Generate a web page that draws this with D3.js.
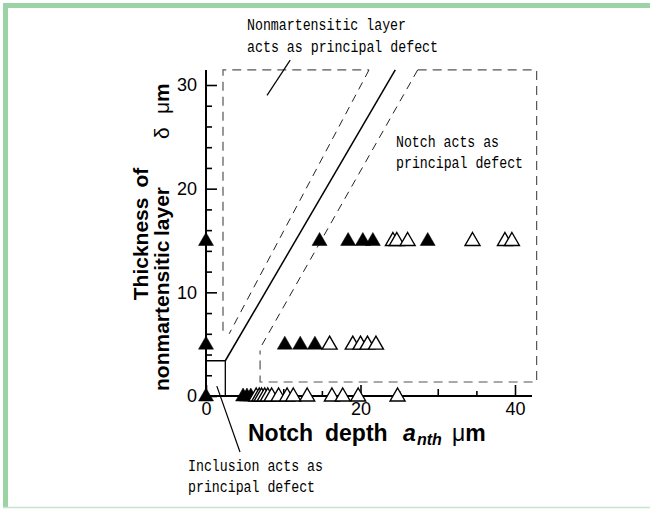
<!DOCTYPE html>
<html>
<head>
<meta charset="utf-8">
<script src="https://cdn.jsdelivr.net/npm/d3@7"></script>
<style>
  body { margin: 0; background: #fff; }
  svg { display: block; }
</style>
</head>
<body>
<div id="chart"></div>
<script>
// Tick values
const xMajorTicks = [0, 20, 40];
const xMinorTicks = [5, 10, 15, 25, 30, 35];
const yMajorTicks = [0, 10, 20, 30];
const yMinorTicks = [2, 4, 6, 8, 12, 14, 16, 18, 22, 24, 26, 28];

// Measured points: notch depth (um) at each layer thickness (um)
const filled15 = [0, 14.7, 18.4, 20.3, 21.6, 28.7];
const open15 = [24.2, 24.7, 26.1, 34.5, 38.7, 39.6];
const filled5 = [0, 10.2, 12.2, 14.1];
const open5 = [16.0, 19.0, 20.0, 20.9, 22.0];
const filled0 = [0, 4.8, 5.3, 5.8];
const open0 = [6.5, 6.9, 7.2, 7.6, 8.0, 8.5, 9.4, 10.5, 11.3, 13.1, 16.3, 17.7, 19.7, 24.8];

// Boundary lines in data units [x, y]
const solidBoundary = [[0, 3.4], [2.5, 3.4], [2.5, 0]];
const solidDiagonal = [[2.5, 3.4], [24.5, 31.45]];
const layerRegion = [[2.2, 6.3], [2.2, 31.45], [21.1, 31.45]];
const layerDiagonal = [[21.1, 31.45], [3.0, 6.0]];
const notchRegion = [[27.4, 31.45], [42.8, 31.45], [42.8, 1.35], [7.0, 1.35], [7.0, 4.4]];
const notchDiagonal = [[27.4, 31.45], [7.0, 4.6]];
const layerLeader = [[10.9, 32.4], [7.9, 29.0]];
const inclusionLeader = [[1.4, 0.95], [4.4, -5.4]];

const width = 650;
const height = 510;

const svg = d3.select("#chart")
    .append("svg")
    .attr("width", width)
    .attr("height", height);

// green frame
svg.append("rect").attr("x", 3).attr("y", 3).attr("width", width).attr("height", 5).attr("fill", "#9bd3a4");
svg.append("rect").attr("x", 3).attr("y", 3).attr("width", 5).attr("height", 505).attr("fill", "#9bd3a4");
svg.append("line").attr("x1", 3).attr("x2", width).attr("y1", 507.5).attr("y2", 507.5)
    .attr("stroke", "#c6e6cb").attr("stroke-width", 1.5);

const xScale = d3.scaleLinear().domain([0, 40]).range([206, 515]);
const yScale = d3.scaleLinear().domain([0, 30]).range([396, 85]);

const line = d3.line().x(d => xScale(d[0])).y(d => yScale(d[1]));

// region outlines
const guides = svg.append("g").attr("fill", "none");
guides.append("path").attr("d", line(layerRegion))
    .attr("stroke", "#555").attr("stroke-width", 1.2).attr("stroke-dasharray", "9,6");
guides.append("path").attr("d", line(notchRegion))
    .attr("stroke", "#555").attr("stroke-width", 1.2).attr("stroke-dasharray", "9,6");
guides.append("path").attr("d", line(layerDiagonal))
    .attr("stroke", "#222").attr("stroke-width", 1).attr("stroke-dasharray", "8,6");
guides.append("path").attr("d", line(notchDiagonal))
    .attr("stroke", "#222").attr("stroke-width", 1).attr("stroke-dasharray", "8,6");
guides.append("path").attr("d", line(solidBoundary))
    .attr("stroke", "#000").attr("stroke-width", 1.3);
guides.append("path").attr("d", line(solidDiagonal))
    .attr("stroke", "#000").attr("stroke-width", 1.5);
guides.append("path").attr("d", line(layerLeader))
    .attr("stroke", "#000").attr("stroke-width", 1.2);
guides.append("path").attr("d", line(inclusionLeader))
    .attr("stroke", "#000").attr("stroke-width", 1.2);

// axes
const axisFont = "'Liberation Sans', Arial, Helvetica, sans-serif";

const yAxis = svg.append("g").attr("transform", `translate(${xScale(0)},0)`)
    .call(d3.axisLeft(yScale).tickValues(yMajorTicks).tickSizeInner(-11).tickSizeOuter(0).tickPadding(9));
const yMinor = svg.append("g").attr("transform", `translate(${xScale(0)},0)`)
    .call(d3.axisLeft(yScale).tickValues(yMinorTicks).tickSizeInner(-6).tickSizeOuter(0).tickFormat(""));
const xAxis = svg.append("g").attr("transform", `translate(0,${yScale(0)})`)
    .call(d3.axisBottom(xScale).tickValues(xMajorTicks).tickSizeInner(-11).tickSizeOuter(0).tickPadding(6));
const xMinor = svg.append("g").attr("transform", `translate(0,${yScale(0)})`)
    .call(d3.axisBottom(xScale).tickValues(xMinorTicks).tickSizeInner(-5).tickSizeOuter(0).tickFormat(""));

[yAxis, yMinor, xAxis, xMinor].forEach(g => {
    g.select(".domain").remove();
    g.selectAll("line").attr("stroke", "#000").attr("stroke-width", 1.6);
    g.selectAll("text").attr("font-family", axisFont).attr("font-size", 18).attr("fill", "#000");
});
xMinor.selectAll(".tick line").attr("y2", d => d % 10 === 0 ? -7 : -5);

// axis lines
svg.append("line")
    .attr("x1", xScale(0)).attr("x2", xScale(0))
    .attr("y1", yScale(0)).attr("y2", yScale(31.45))
    .attr("stroke", "#000").attr("stroke-width", 2);
svg.append("line")
    .attr("x1", xScale(0)).attr("x2", xScale(42.2))
    .attr("y1", yScale(0)).attr("y2", yScale(0))
    .attr("stroke", "#000").attr("stroke-width", 2);

// triangle markers
const tri = (cx, cy) => `M${cx},${cy - 8}L${cx + 7.5},${cy + 5}L${cx - 7.5},${cy + 5}Z`;
const rows = [
    { delta: 0, filled: filled0, open: open0 },
    { delta: 5, filled: filled5, open: open5 },
    { delta: 15, filled: filled15, open: open15 }
];
rows.forEach(r => {
    const pts = r.filled.map(x => ({ x, f: true })).concat(r.open.map(x => ({ x, f: false })))
        .sort((a, b) => a.x - b.x);
    svg.append("g").selectAll("path")
        .data(pts)
        .join("path")
        .attr("d", d => tri(xScale(d.x), yScale(r.delta)))
        .attr("fill", d => d.f ? "#000" : "#fff")
        .attr("stroke", "#000")
        .attr("stroke-width", d => d.f ? 0.5 : 1.4)
        .attr("stroke-linejoin", "miter");
});

// axis titles
const xTitle = svg.append("text")
    .attr("y", 441)
    .attr("font-family", axisFont).attr("font-size", 23).attr("font-weight", "bold");
xTitle.append("tspan").attr("x", 248).text("Notch");
xTitle.append("tspan").attr("x", 325).text("depth");
xTitle.append("tspan").attr("x", 403).attr("font-style", "italic").text("a");
xTitle.append("tspan").attr("x", 417).attr("font-style", "italic").attr("font-size", 16).attr("dy", 4).text("nth");
xTitle.append("tspan").attr("x", 452).attr("dy", -4).attr("font-weight", "normal").text("\u03bc");
xTitle.append("tspan").text("m");

const yTitle1 = svg.append("text")
    .attr("transform", "translate(148,234) rotate(-90)")
    .attr("text-anchor", "middle")
    .attr("font-family", axisFont).attr("font-size", 21).attr("font-weight", "bold");
yTitle1.append("tspan").text("Thickness");
yTitle1.append("tspan").attr("dx", 10).text("of");

const yTitle2 = svg.append("text")
    .attr("transform", "translate(169,391) rotate(-90)")
    .attr("font-family", axisFont).attr("font-size", 21).attr("font-weight", "bold");
yTitle2.append("tspan").attr("x", 0).text("nonmartensitic");
yTitle2.append("tspan").attr("x", 155).text("layer");
yTitle2.append("tspan").attr("x", 252).attr("font-weight", "normal").text("\u03b4");
yTitle2.append("tspan").attr("x", 277).attr("font-weight", "normal").text("\u03bc");
yTitle2.append("tspan").text("m");

// annotations
const noteFont = "'Liberation Mono', 'DejaVu Sans Mono', monospace";
const notes = [
    { x: 247, y: 30, t: "Nonmartensitic layer" },
    { x: 247, y: 52, t: "acts as principal defect" },
    { x: 396, y: 147, t: "Notch acts as" },
    { x: 396, y: 168, t: "principal defect" },
    { x: 188, y: 471, t: "Inclusion acts as" },
    { x: 188, y: 492, t: "principal defect" }
];
svg.append("g").selectAll("text")
    .data(notes)
    .join("text")
    .attr("x", d => d.x).attr("y", d => d.y)
    .attr("font-family", noteFont).attr("font-size", 16)
    .attr("textLength", d => d.t.length * 8 - 1)
    .attr("lengthAdjust", "spacingAndGlyphs")
    .text(d => d.t);
</script>
</body>
</html>
